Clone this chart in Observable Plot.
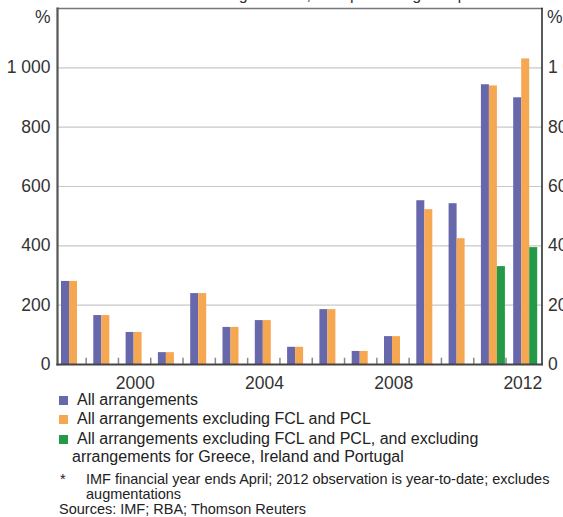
<!DOCTYPE html>
<html>
<head>
<meta charset="utf-8">
<script src="https://cdn.jsdelivr.net/npm/d3@7"></script>
<script src="https://cdn.jsdelivr.net/npm/@observablehq/plot@0.6"></script>
<style>
  html, body { margin: 0; padding: 0; background: #fff; overflow: hidden; }
  body { width: 563px; height: 517px; position: relative; font-family: "Liberation Sans", Arial, sans-serif; color: #222; }
  #chart { position: absolute; left: 0; top: 0; }
  .title { position: absolute; left: 57px; width: 484px; top: -14px; text-align: center; font-size: 16px; color: #333; white-space: nowrap; }
  .sw { position: absolute; left: 59px; width: 9px; height: 9px; }
  .lg { position: absolute; left: 77px; font-size: 16px; line-height: 19px; white-space: nowrap; color: #222; }
  .fn { position: absolute; font-size: 14.5px; line-height: 16px; white-space: nowrap; color: #222; }
</style>
</head>
<body>
<div class="title">Value of new arrangements*, as a percentage of quota</div>
<div id="chart"></div>
<div class="sw" style="top:396px;background:#6767ac"></div>
<div class="lg" style="top:390px">All arrangements</div>
<div class="sw" style="top:415px;background:#f6a751"></div>
<div class="lg" style="top:409px">All arrangements excluding FCL and PCL</div>
<div class="sw" style="top:434.5px;background:#239a48"></div>
<div class="lg" style="top:428.5px">All arrangements excluding FCL and PCL, and excluding</div>
<div class="lg" style="top:446.5px;left:72px">arrangements for Greece, Ireland and Portugal</div>
<div class="fn" style="top:471px;left:60px">*</div>
<div class="fn" style="top:471px;left:86px">IMF financial year ends April; 2012 observation is year-to-date; excludes</div>
<div class="fn" style="top:486px;left:86px">augmentations</div>
<div class="fn" style="top:501px;left:59px">Sources: IMF; RBA; Thomson Reuters</div>
<script>
// Data
const years = [1998, 1999, 2000, 2001, 2002, 2003, 2004, 2005, 2006, 2007, 2008, 2009, 2010, 2011, 2012];
const allArrangements = [280, 165, 108, 40, 239, 125, 148, 58, 185, 44, 94, 552, 542, 943, 899];
const exFclPcl = [280, 165, 108, 40, 239, 125, 148, 58, 185, 44, 94, 522, 424, 939, 1030];
const exFclPclGip = [null, null, null, null, null, null, null, null, null, null, null, null, null, 330, 394];
const yTicks = [0, 200, 400, 600, 800, 1000];
const yTickLabels = ["0", "200", "400", "600", "800", "1 000"];
const xLabelYears = [2000, 2004, 2008, 2012];

const rows = (vals) => years.map((y, i) => ({year: y, value: vals[i]})).filter(d => d.value != null);

const fmtY = d => yTickLabels[yTicks.indexOf(d)];
const axisFont = 17.5;

const chart = Plot.plot({
  width: 563,
  height: 392,
  marginLeft: 57,
  marginRight: 21.5,
  marginTop: 8,
  marginBottom: 28,
  style: {fontFamily: '"Liberation Sans", Arial, sans-serif', background: "transparent", overflow: "hidden"},
  x: {type: "band", domain: years, padding: 0, round: false},
  y: {domain: [0, 1200]},
  marks: [
    Plot.ruleY(yTicks.slice(1), {y: d => d, stroke: "#c8c8c8", strokeWidth: 1.2, insetLeft: 1}),
    Plot.barY(rows(allArrangements), {x: "year", y: "value", fill: "#6767ac", insetLeft: 4, insetRight: 20.3}),
    Plot.barY(rows(exFclPcl), {x: "year", y: "value", fill: "#f6a751", insetLeft: 12, insetRight: 12.3}),
    Plot.barY(rows(exFclPclGip), {x: "year", y: "value", fill: "#239a48", insetLeft: 20, insetRight: 4.3}),
    Plot.ruleX(years.slice(0, 14), {x: d => d, y1: 0, y2: 21, dx: 12.5, stroke: "#888", strokeWidth: 1.5}),
    Plot.frame({anchor: "top", stroke: "#777", strokeWidth: 1.5}),
    Plot.frame({anchor: "right", stroke: "#222", strokeWidth: 1.5}),
    Plot.frame({anchor: "left", stroke: "#555", strokeWidth: 2.2}),
    Plot.frame({anchor: "bottom", stroke: "#444", strokeWidth: 2}),
    Plot.axisY(yTicks, {anchor: "left", tickSize: 0, tickPadding: 7, tickFormat: fmtY, fontSize: axisFont, fill: "#333", label: null}),
    Plot.axisY(yTicks, {anchor: "right", tickSize: 0, tickPadding: 6, tickFormat: fmtY, fontSize: axisFont, fill: "#333", label: null}),
    Plot.axisX(xLabelYears, {anchor: "bottom", tickSize: 0, tickPadding: 12, dx: -3, tickFormat: d => String(d), fontSize: axisFont, fill: "#333", label: null}),
    Plot.text(["%"], {frameAnchor: "top-left", text: d => d, dx: -7, dy: 9, textAnchor: "end", lineAnchor: "middle", fontSize: axisFont, fill: "#333"}),
    Plot.text(["%"], {frameAnchor: "top-right", text: d => d, dx: 5, dy: 9, textAnchor: "start", lineAnchor: "middle", fontSize: axisFont, fill: "#333"})
  ]
});
document.getElementById("chart").appendChild(chart);
</script>
</body>
</html>
